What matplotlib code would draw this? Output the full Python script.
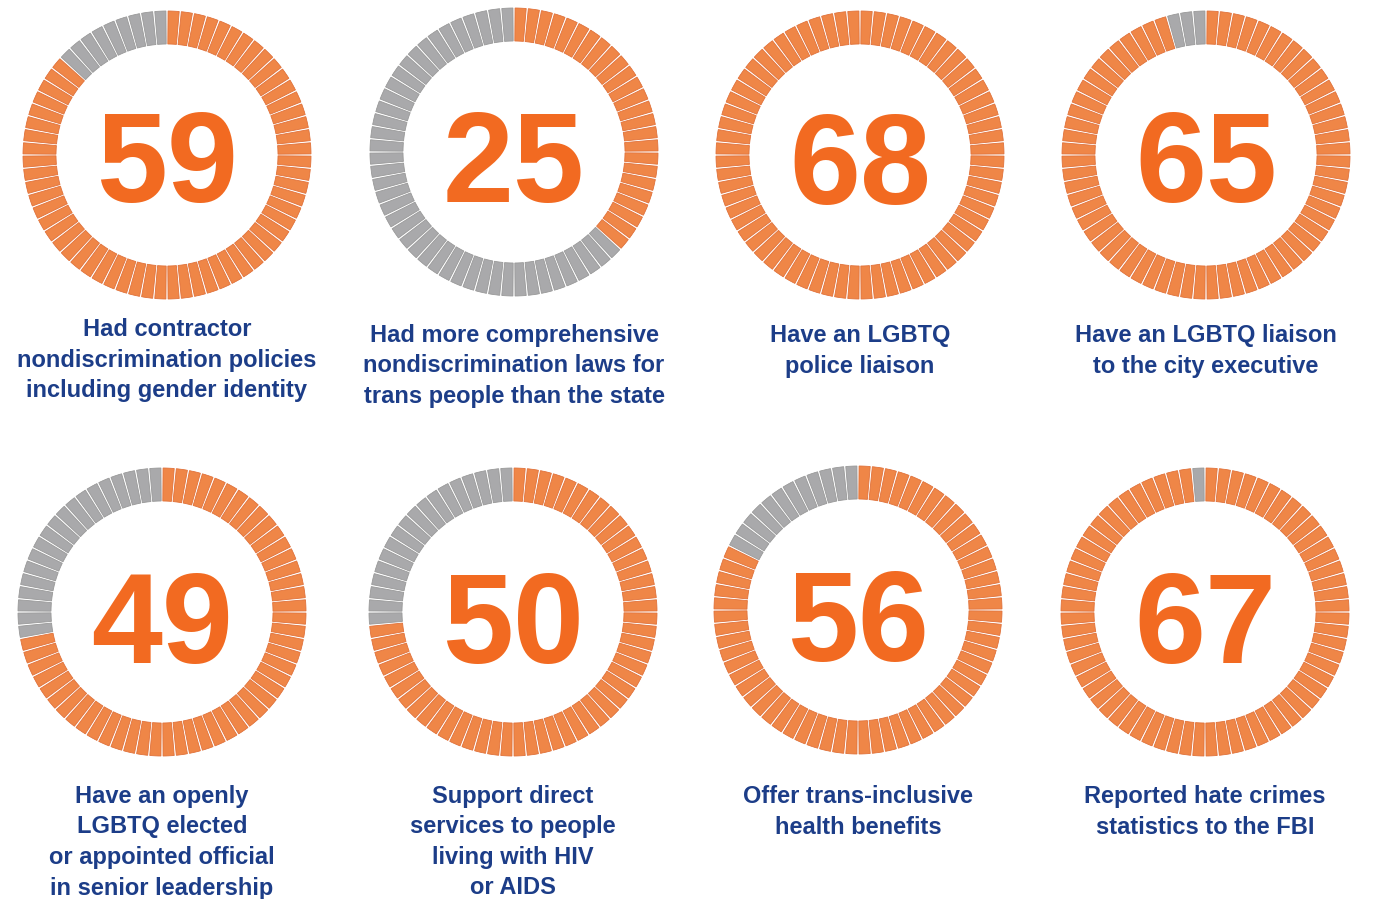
import numpy as np
import matplotlib
matplotlib.use('Agg')
import matplotlib.pyplot as plt

TOTAL = 68
values = [59, 25, 68, 65, 49, 50, 56, 67]
labels = [
    ['Had contractor', 'nondiscrimination policies', 'including gender identity'],
    ['Had more comprehensive', 'nondiscrimination laws for', 'trans people than the state'],
    ['Have an LGBTQ', 'police liaison'],
    ['Have an LGBTQ liaison', 'to the city executive'],
    ['Have an openly', 'LGBTQ elected', 'or appointed official', 'in senior leadership'],
    ['Support direct', 'services to people', 'living with HIV', 'or AIDS'],
    ['Offer trans-inclusive', 'health benefits'],
    ['Reported hate crimes', 'statistics to the FBI'],
]

W, H = 1373, 899
ORANGE = '#EF8647'
ORANGE_EDGE = '#E0713A'
NUM_ORANGE = '#F26A21'
GRAY = '#A9A9AB'
GRAY_EDGE = '#999999'
NAVY = '#1C3D88'

# ring centres, number baselines and first label baselines, in pixels from top-left
centers = [(167, 155), (514, 152), (860, 155), (1206, 155),
           (162, 612), (513, 612), (858, 610), (1205, 612)]
num_base = [202, 202, 204, 202, 663, 663, 661, 663]
label_base = [336, 342, 342, 342, 803, 803, 803, 803]
LINE_STEP = 30.5
R_OUT, R_IN = 145, 111

fig = plt.figure(figsize=(W / 100, H / 100), dpi=100)
fig.patch.set_facecolor('white')

for i, v in enumerate(values):
    cx, cy = centers[i]
    ax = fig.add_axes([(cx - R_OUT) / W, 1 - (cy + R_OUT) / H, 2 * R_OUT / W, 2 * R_OUT / H],
                      projection='polar')
    ax.set_theta_zero_location('N')
    ax.set_theta_direction(-1)
    slot = 2 * np.pi / TOTAL
    theta = (np.arange(TOTAL) + 0.5) * slot
    on = np.arange(TOTAL) < v
    colors = np.where(on, ORANGE, GRAY)
    edges = np.where(on, ORANGE_EDGE, GRAY_EDGE)
    ax.bar(theta, R_OUT - R_IN - 1, width=slot * 0.84, bottom=R_IN,
           color=colors, edgecolor=edges, linewidth=0.6)
    ax.set_ylim(0, R_OUT)
    ax.axis('off')

    fig.text(cx / W, 1 - num_base[i] / H, str(v), ha='center', va='baseline',
             fontsize=92, fontweight='bold', color=NUM_ORANGE, family='Liberation Sans')
    for k, line in enumerate(labels[i]):
        y = label_base[i] + k * LINE_STEP
        fig.text(cx / W, 1 - y / H, line, ha='center', va='baseline',
                 fontsize=17, fontweight='bold', color=NAVY, family='Liberation Sans')

fig.savefig('out.png', dpi=100, facecolor='white')
